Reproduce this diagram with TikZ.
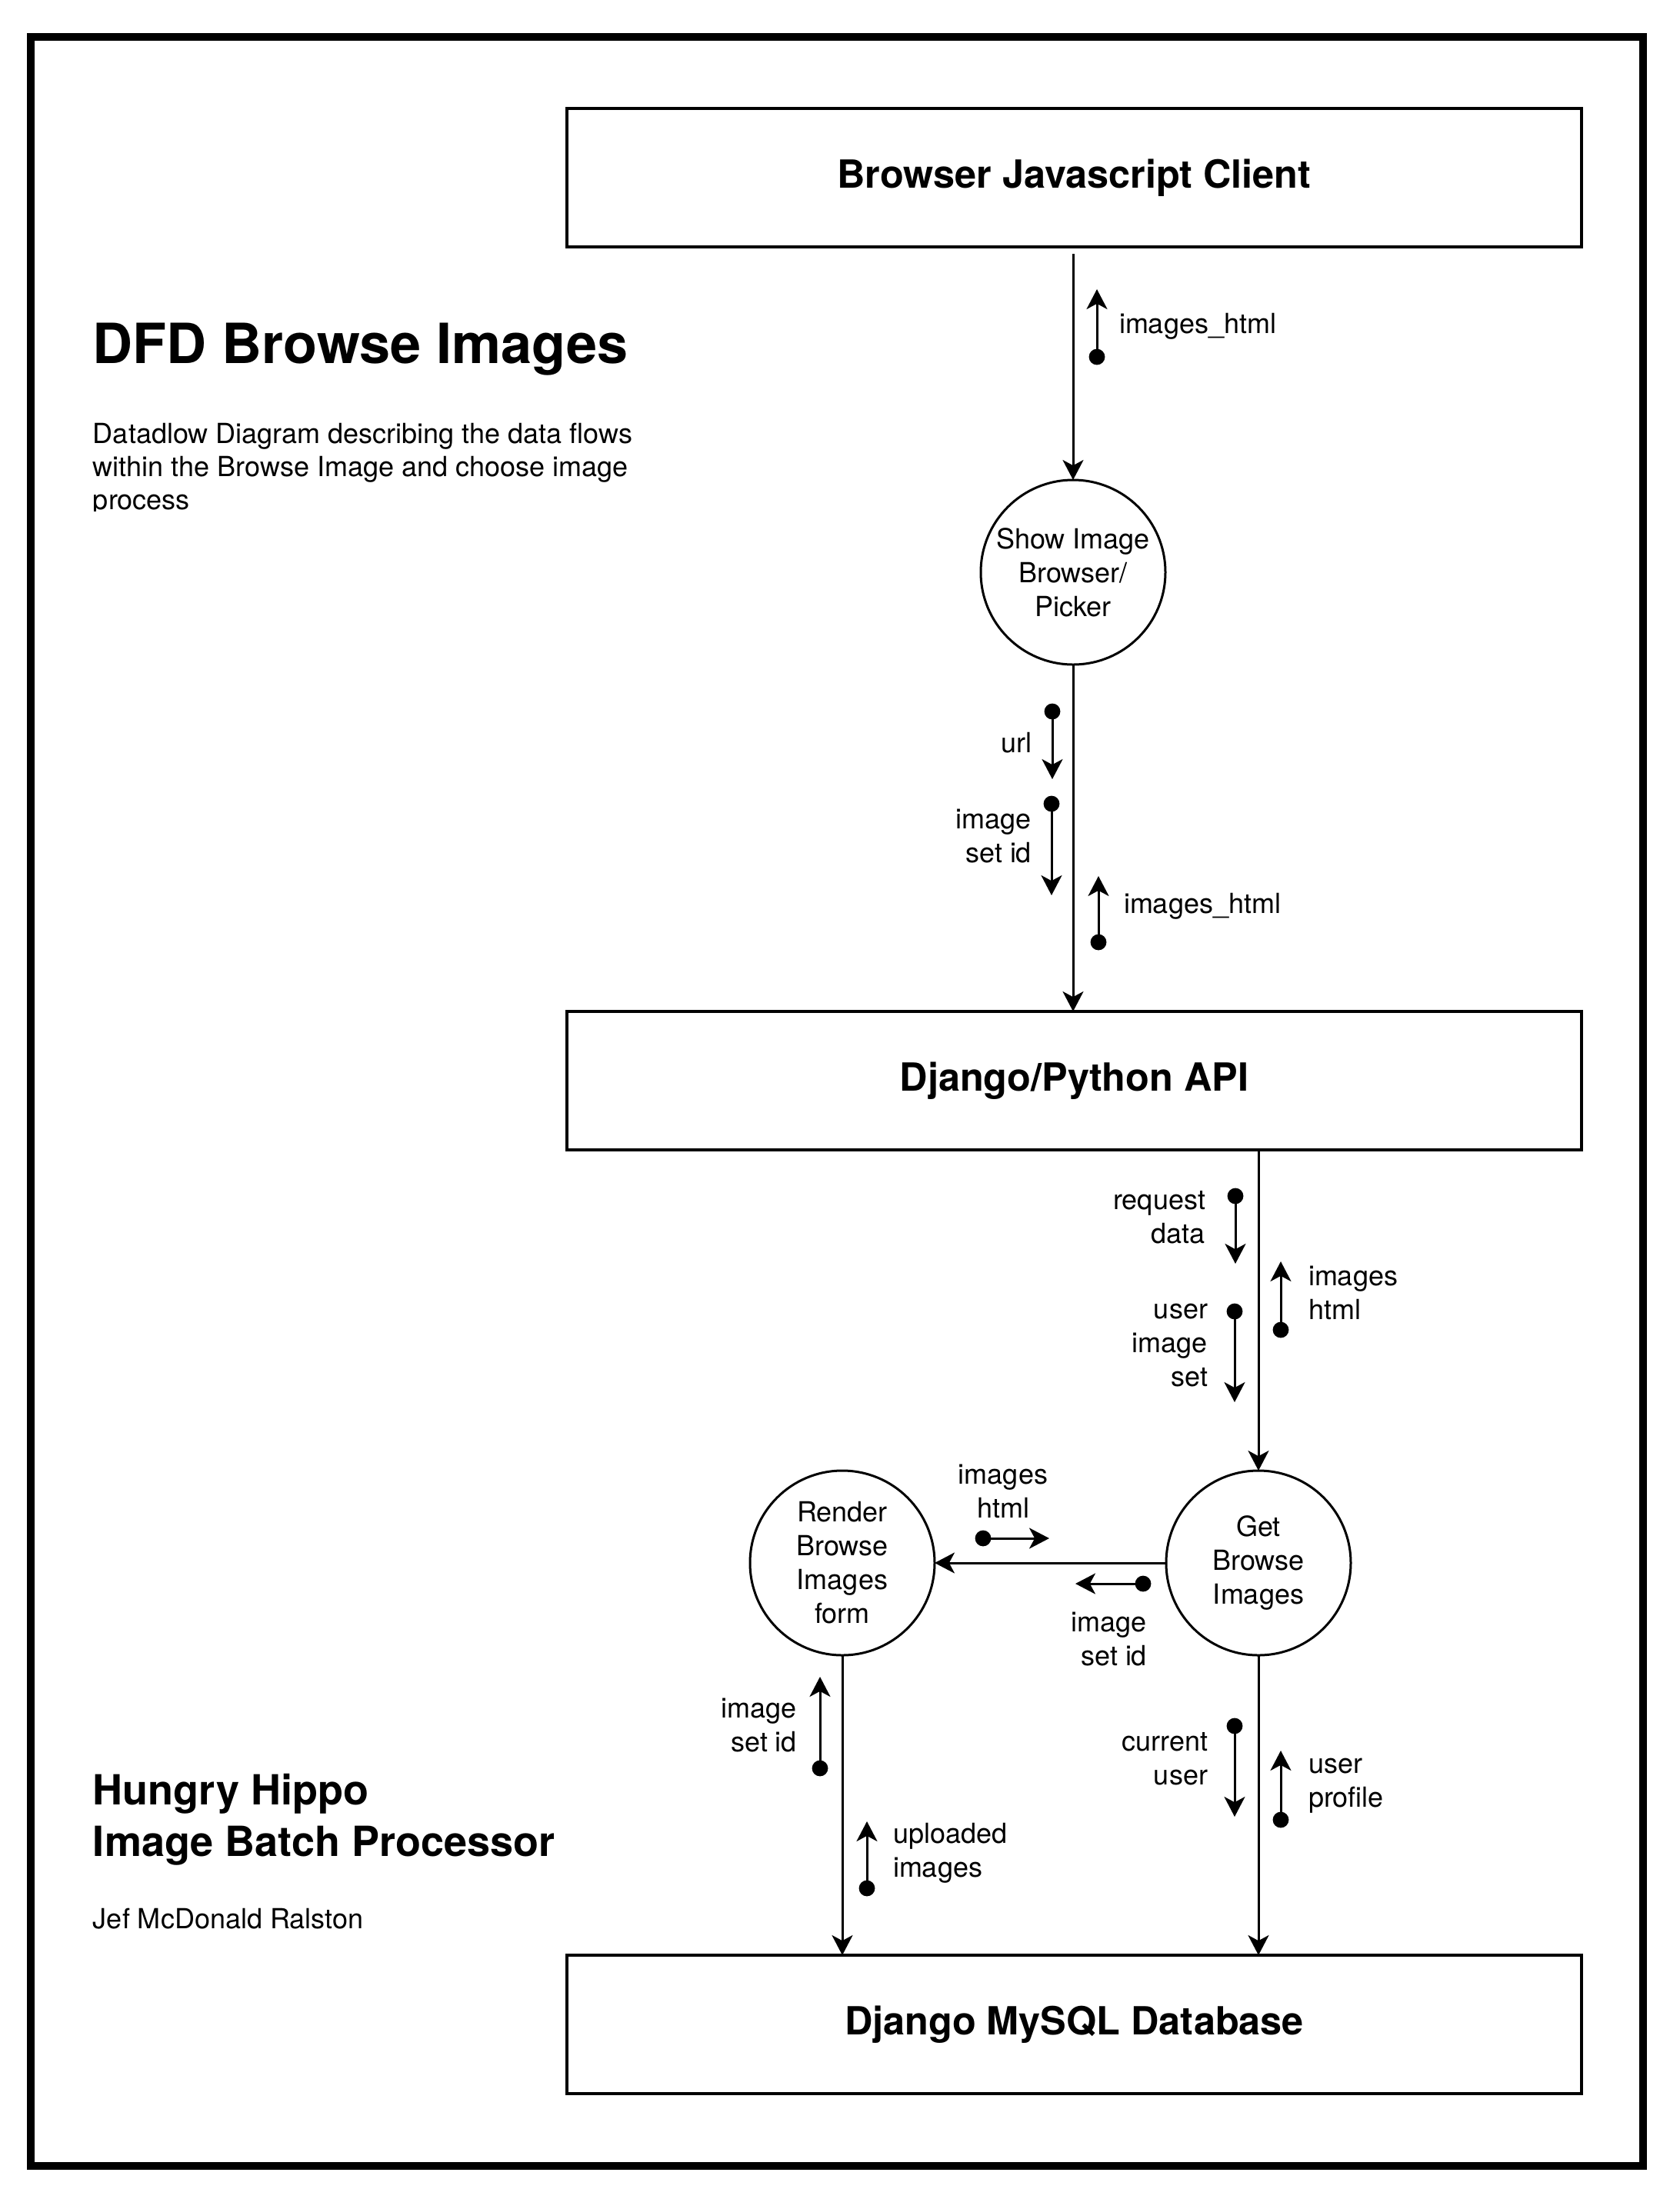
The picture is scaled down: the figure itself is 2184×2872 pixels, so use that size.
\documentclass[tikz,border=0pt]{standalone}
\usepackage{fontspec}
\setmainfont{TeX Gyre Heros}
\usetikzlibrary{arrows.meta}
\begin{document}
\begin{tikzpicture}[x=0.25pt,y=-0.25pt,
  every node/.style={inner sep=0pt, outer sep=0pt},
  box/.style={draw, line width=0.9pt, minimum width=329.75pt, minimum height=45pt,
    font=\fontsize{12.6}{15}\selectfont\bfseries},
  proc/.style={draw, circle, line width=0.75pt, minimum size=60pt, align=center,
    font=\fontsize{9}{11}\selectfont},
  flowline/.style={line width=0.75pt, -{Stealth[length=6.5pt,width=6.75pt,inset=1.8pt]}},
  dot/.style={circle, fill, minimum size=5.2pt},
  lbl/.style={font=\fontsize{9}{11}\selectfont},
  lblr/.style={lbl, align=right, anchor=east},
  lbll/.style={lbl, align=left, anchor=west},
]
\path[use as bounding box, fill=white] (0,0) rectangle (2184,2872);
\draw[line width=2.5pt] (40,48) rectangle (2136,2816);

% titles and notes
\node[anchor=base west, font=\fontsize{18}{21}\selectfont\bfseries] (title) at (121,472) {DFD Browse Images};
\begin{scope}
  \clip (100,520) rectangle (900,664);
  \node[anchor=north west, align=left, font=\fontsize{9}{10.75}\selectfont] (desc) at (121,550)
    {Datadlow Diagram describing the data flows\\within the Browse Image and choose image\\process};
\end{scope}
\node[anchor=north west, align=left, font=\fontsize{13.5}{16.75}\selectfont\bfseries] (proj) at (121,2306)
  {Hungry Hippo\\Image Batch Processor};
\node[anchor=base west, font=\fontsize{9}{11}\selectfont] (author) at (121,2507) {Jef McDonald Ralston};

% external entities / stores
\node[box] (browser) at (1396.5,231) {Browser Javascript Client};
\node[box] (api) at (1396.5,1405) {Django/Python API};
\node[box] (db) at (1396.5,2632) {Django MySQL Database};

% processes
\node[proc] (show) at (1395,744) {Show Image\\Browser/\\Picker};
\node[proc] (render) at (1095,2032) {Render\\Browse\\Images\\form};
\node[proc] (get) at (1636,2032) {Get\\Browse\\Images};

% main flows
\draw[flowline, shorten <=2.25pt] (browser.south -| show.north) -- (show.north);
\draw[flowline] (show.south) -- (show.south |- api.north);
\draw[flowline] (api.south -| get.north) -- (get.north);
\draw[flowline] (get.west) -- (render.east);
\draw[flowline] (render.south) -- (render.south |- db.north);
\draw[flowline] (get.south) -- (get.south |- db.north);

% data-flow labels
\node[dot] (d1) at (1426,464) {}; \coordinate (t1) at (1426,376);
\draw[flowline] (d1) -- (t1);
\node[lbll] (l1) at (1455,424) {images\_html};

\node[dot] (d2) at (1368,925) {}; \coordinate (t2) at (1368,1013);
\draw[flowline] (d2) -- (t2);
\node[lblr] (l2) at (1341,966) {url};

\node[dot] (d3) at (1367,1045) {}; \coordinate (t3) at (1367,1164);
\draw[flowline] (d3) -- (t3);
\node[lblr] (l3) at (1341,1087) {image\\set id};

\node[dot] (d4) at (1428,1225) {}; \coordinate (t4) at (1428,1139);
\draw[flowline] (d4) -- (t4);
\node[lbll] (l4) at (1461,1178) {images\_html};

\node[dot] (d5) at (1606,1555) {}; \coordinate (t5) at (1606,1643);
\draw[flowline] (d5) -- (t5);
\node[lblr] (l5) at (1567,1583) {request\\data};

\node[dot] (d6) at (1665,1729) {}; \coordinate (t6) at (1665,1640);
\draw[flowline] (d6) -- (t6);
\node[lbll] (l6) at (1701,1681) {images\\html};

\node[dot] (d7) at (1605,1705) {}; \coordinate (t7) at (1605,1823);
\draw[flowline] (d7) -- (t7);
\node[lblr] (l7) at (1570,1749) {user\\image\\set};

\node[dot] (d8) at (1278,2000) {}; \coordinate (t8) at (1364,2000);
\draw[flowline] (d8) -- (t8);
\node[lbl, align=center] (l8) at (1304,1939) {images\\html};

\node[dot] (d9) at (1486,2059) {}; \coordinate (t9) at (1398,2059);
\draw[flowline] (d9) -- (t9);
\node[lblr] (l9) at (1491,2131) {image\\set id};

\node[dot] (d10) at (1066,2299) {}; \coordinate (t10) at (1066,2180);
\draw[flowline] (d10) -- (t10);
\node[lblr] (l10) at (1036,2243) {image\\set id};

\node[dot] (d11) at (1127,2455) {}; \coordinate (t11) at (1127,2368);
\draw[flowline] (d11) -- (t11);
\node[lbll] (l11) at (1161,2409) {uploaded\\images};

\node[dot] (d12) at (1605,2244) {}; \coordinate (t12) at (1605,2362);
\draw[flowline] (d12) -- (t12);
\node[lblr] (l12) at (1570,2287) {current\\user};

\node[dot] (d13) at (1665,2366) {}; \coordinate (t13) at (1665,2276);
\draw[flowline] (d13) -- (t13);
\node[lbll] (l13) at (1701,2322) {user\\profile};
\end{tikzpicture}
\end{document}
